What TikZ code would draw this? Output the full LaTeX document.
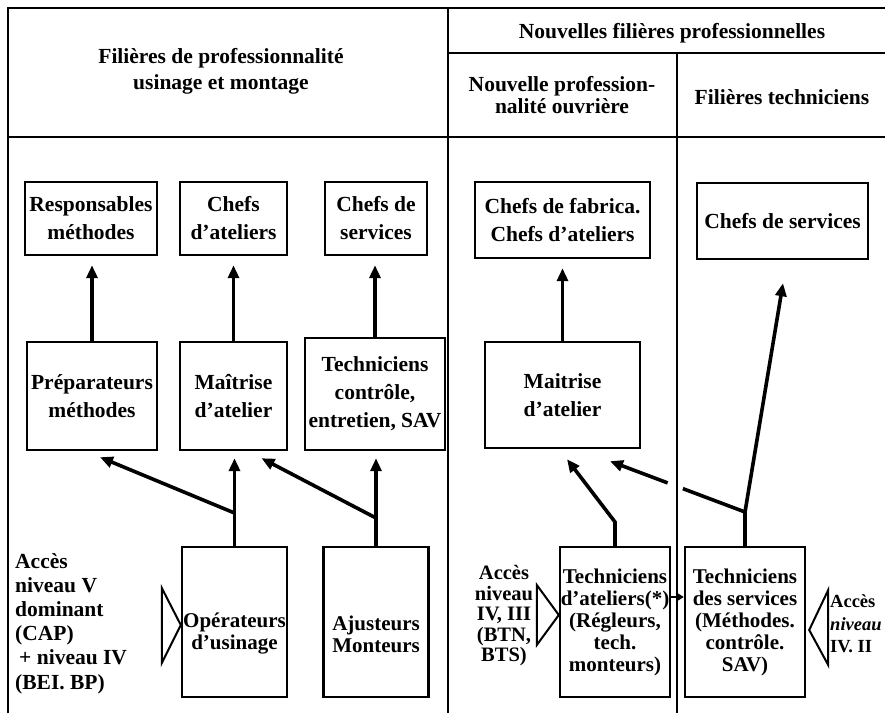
\documentclass[tikz,border=0pt]{standalone}
\usepackage{fontspec}
\setmainfont{Liberation Serif}
\usepackage{tikz}
\usetikzlibrary{calc,arrows.meta}
\definecolor{ink}{HTML}{000000}
\tikzset{
  frame/.style={draw=ink, line width=2.2pt},
  box/.style={draw=ink, line width=2.4pt, inner sep=0pt, align=center, text=ink,
    font=\bfseries\fontsize{21.5}{28}\selectfont},
  tight/.style={font=\bfseries\fontsize{21}{22}\selectfont},
  head/.style={text=ink, align=center, inner sep=0pt, font=\bfseries\fontsize{21.5}{26}\selectfont},
  lbl/.style={text=ink, align=center, inner sep=0pt, font=\bfseries\fontsize{20.5}{20.5}\selectfont},
  flow/.style={draw=ink, line width=3.6pt, -{Triangle[length=13pt,width=11pt]}},
  link/.style={draw=ink, line width=3.6pt},
  nudge/.style={draw=ink, line width=2pt, -{Triangle[length=6pt,width=7pt]}},
  entry/.style={draw=ink, line width=2pt, line join=miter}
}

\begin{document}
\begin{tikzpicture}[x=1pt,y=-1pt]
  \useasboundingbox (0,0) rectangle (885,713);
  \clip (0,0) rectangle (885,713);

  % cadre
  \draw[frame] (8,713) -- (8,8) -- (885,8);
  \draw[frame] (448,8) -- (448,713);
  \draw[frame] (8,137) -- (885,137);
  \draw[frame] (448,53) -- (885,53);
  \draw[frame] (677,53) -- (677,713);

  \node[head] (hL) at (221,71) {Filières de professionnalité\\usinage et montage};
  \node[head] (hR) at (672,33) {Nouvelles filières professionnelles};
  \node[head, font=\bfseries\fontsize{21.5}{21.5}\selectfont] (hN) at (562,95) {Nouvelle profession-\\nalité ouvrière};
  \node[head] (hT) at (782,97) {Filières techniciens};

  % haut
  \node[box, minimum width=132pt, minimum height=73pt] (resp) at (91,218.5) {Responsables\\méthodes};
  \node[box, minimum width=107pt, minimum height=73pt] (chefsA) at (233.5,218.5) {Chefs\\d'ateliers};
  \node[box, minimum width=102pt, minimum height=73pt] (chefsS) at (376,218.5) {Chefs de\\services};
  \node[box, minimum width=175pt, minimum height=76pt] (chefsF) at (562.5,220) {Chefs de fabrica.\\Chefs d'ateliers};
  \node[box, minimum width=171pt, minimum height=76pt] (chefsR) at (782.5,221) {Chefs de services};

  % milieu
  \node[box, minimum width=130pt, minimum height=108pt] (prep) at (92,396) {Préparateurs\\méthodes};
  \node[box, minimum width=107pt, minimum height=108pt] (maitL) at (233.5,396) {Maîtrise\\d'atelier};
  \node[box, minimum width=140pt, minimum height=112pt] (techC) at (375,394) {Techniciens\\contrôle,\\entretien, SAV};
  \node[box, minimum width=155pt, minimum height=106pt] (maitR) at (562.5,395) {Maitrise\\d'atelier};

  % bas
  \node[box, minimum width=105pt, minimum height=150pt] (oper) at (234.5,622) {};
  \node[box, minimum width=105pt, minimum height=150pt] (ajust) at (376,622) {};
  \node[box, draw=none, tight] (operT) at (234.5,634) {Opérateurs\\d'usinage};
  \node[box, draw=none, tight] (ajustT) at (376,634) {Ajusteurs\\Monteurs};
  \node[box, tight, minimum width=110pt, minimum height=150pt] (techA) at (615,622) {Techniciens\\d'ateliers(*)\\(Régleurs,\\tech.\\monteurs)};
  \node[box, tight, minimum width=120pt, minimum height=150pt] (techS) at (745,622) {Techniciens\\des services\\(Méthodes.\\contrôle.\\SAV)};

  % acces
  \node[lbl, anchor=west, align=left, font=\bfseries\fontsize{21.5}{24.2}\selectfont] (accL) at (15,623.5)
    {Accès\\niveau V\\dominant\\(CAP)\\\hspace{4pt}+ niveau IV\\(BEI. BP)};
  \node[lbl] (accM) at (504,616) {Accès\\niveau\\IV, III\\(BTN,\\BTS)};
  \node[lbl, anchor=west, align=left, font=\bfseries\fontsize{18.5}{22.5}\selectfont] (accR) at (830,624)
    {Accès\\\textit{niveau}\\IV. II};

  \draw[entry] (oper.west |- 0,625) -- ++(-19,-37) -- ++(0,75) -- cycle;
  \draw[entry] (techA.west |- 0,615) -- ++(-22,-30) -- ++(0,60) -- cycle;
  \draw[entry] ([xshift=3pt]techS.east |- 0,630) -- ++(19,-40) -- ++(0,75) -- cycle;

  % fleches
  \draw[flow, shorten >=9pt] (prep.north) -- (prep.north |- resp.south);
  \draw[flow, shorten >=9pt] (maitL.north) -- (maitL.north |- chefsA.south);
  \draw[flow, shorten >=9pt] (techC.north) -- (techC.north |- chefsS.south);
  \draw[flow, shorten >=9pt] (maitR.north) -- (maitR.north |- chefsF.south);

  \coordinate (jO) at (oper.north |- 0,513);
  \coordinate (tipP) at ($(prep.south)+(8,6)$);
  \draw[flow, shorten >=7pt] (oper.north) -- (oper.north |- maitL.south);
  \draw[flow] (jO) -- (tipP);

  \coordinate (jA) at (ajust.north |- 0,518);
  \coordinate (tipM) at ($(maitL.south)+(28,7)$);
  \draw[flow, shorten >=7pt] (ajust.north) -- (ajust.north |- techC.south);
  \draw[flow] (jA) -- (tipM);

  \coordinate (bA) at (techA.north |- 0,522);
  \coordinate (tipR) at ($(maitR.south)+(4.5,10)$);
  \draw[flow] (techA.north) -- (bA) -- (tipR);

  \coordinate (jS) at (techS.north |- 0,512);
  \coordinate (tipS) at ($(maitR.south)+(47.5,12)$);
  \coordinate (tipC) at ($(chefsR.south)+(0.5,23)$);
  \draw[link] (techS.north) -- (jS);
  \draw[flow] (jS) -- (tipC);
  \draw[link] (jS) -- ($(jS)!0.46!(tipS)$);
  \draw[flow] ($(jS)!0.573!(tipS)$) -- (tipS);

  \draw[nudge] ([yshift=25pt]techA.east) -- ([yshift=25pt]techS.west);
\end{tikzpicture}
\end{document}
